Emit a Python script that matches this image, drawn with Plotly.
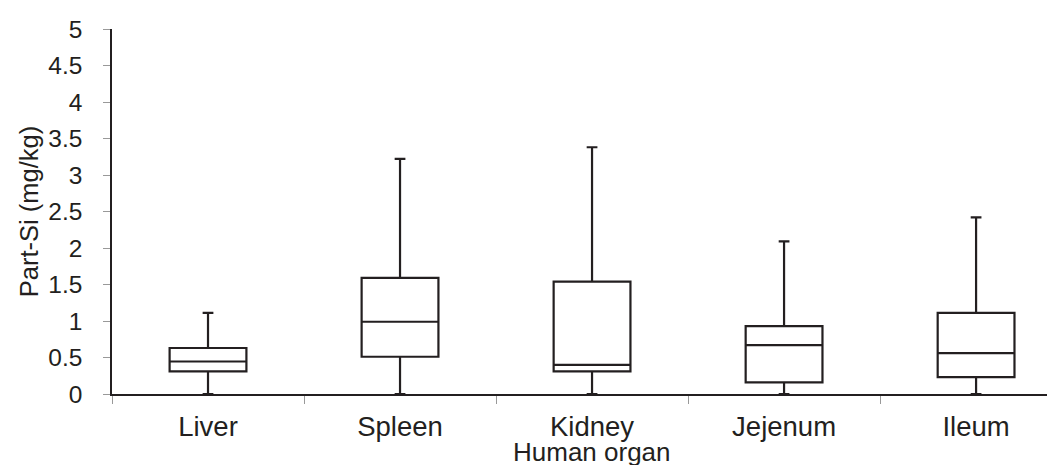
import plotly.graph_objects as go

organs = ["Liver", "Spleen", "Kidney", "Jejenum", "Ileum"]
lower_whisker = [0.0, 0.0, 0.0, 0.0, 0.0]
q1 = [0.31, 0.51, 0.31, 0.16, 0.23]
median = [0.445, 0.99, 0.40, 0.67, 0.56]
q3 = [0.63, 1.59, 1.54, 0.93, 1.11]
upper_whisker = [1.11, 3.22, 3.38, 2.09, 2.42]
x_title = "Human organ"
y_title = "Part-Si (mg/kg)"

ink = "#231f20"
font_family = "Liberation Sans, Arial, sans-serif"

fig = go.Figure()
fig.add_trace(go.Box(
    x=organs,
    q1=q1, median=median, q3=q3,
    lowerfence=lower_whisker, upperfence=upper_whisker,
    boxpoints=False,
    width=0.4,
    whiskerwidth=0.14,
    fillcolor="white",
    line=dict(color=ink, width=2.2),
    showlegend=False,
))

fig.add_annotation(
    x=organs[2], xref="x", y=-0.16, yref="paper",
    text=x_title, showarrow=False, xanchor="center", yanchor="middle",
    font=dict(size=26, family=font_family, color=ink),
)

fig.update_layout(
    width=1055, height=465,
    margin=dict(l=104, r=8, t=15, b=79),
    paper_bgcolor="white", plot_bgcolor="white",
    font=dict(family=font_family, color=ink),
    xaxis=dict(
        type="category",
        range=[-0.5, 4.411],
        showline=True, linecolor=ink, linewidth=1.5,
        ticks="outside", tickson="boundaries", ticklen=8, tickcolor="#999999", tickwidth=1,
        ticklabelstandoff=7,
        tickfont=dict(size=27.5, family=font_family, color=ink),
        showgrid=False, zeroline=False,
    ),
    yaxis=dict(
        range=[0, 5], dtick=0.5, tick0=0,
        showline=True, linecolor=ink, linewidth=1.5,
        ticks="outside", ticklen=7, tickcolor="#999999", tickwidth=1,
        ticklabelstandoff=16,
        tickfont=dict(size=24.5, family=font_family, color=ink),
        showgrid=False, zeroline=False,
        title=dict(text=y_title, font=dict(size=25.5, family=font_family, color=ink), standoff=2),
    ),
)

fig.write_html("out.html")
